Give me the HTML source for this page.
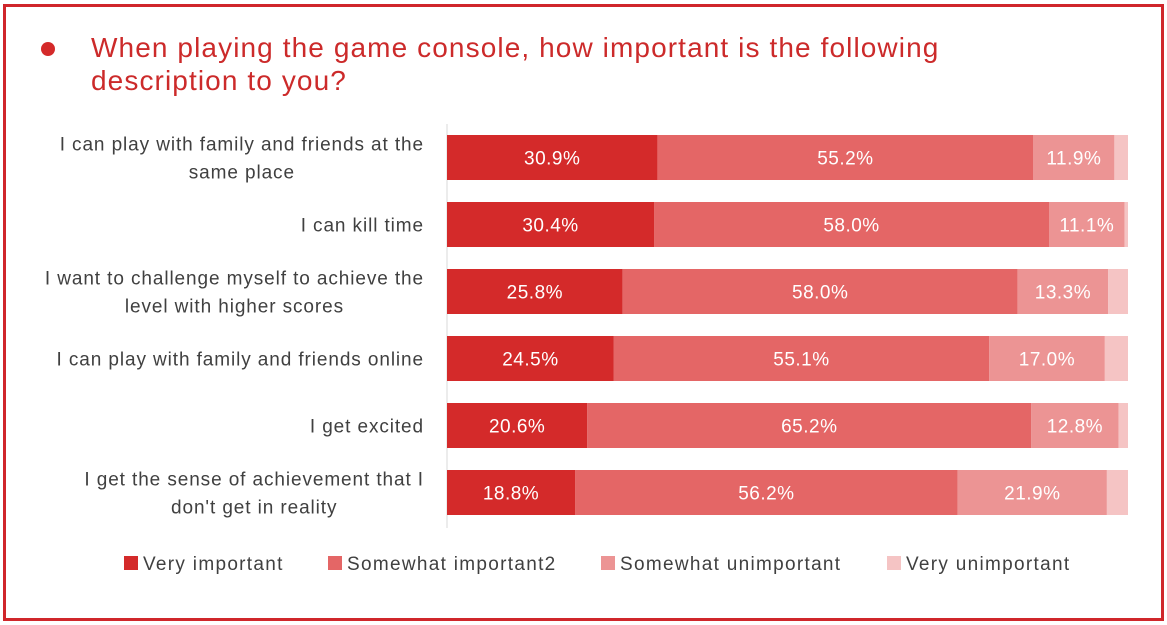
<!DOCTYPE html>
<html><head><meta charset="utf-8"><style>
body{margin:0;width:1167px;height:625px;background:#fff;font-family:"Liberation Sans",sans-serif;overflow:hidden}
</style></head><body>
<svg width="1167" height="625" style="position:absolute;left:0;top:0">
<rect x="4.5" y="5.5" width="1158" height="614" fill="#fff" stroke="#d0262b" stroke-width="3"/>
<circle cx="48" cy="49" r="7" fill="#d42a2a"/>
<text x="91" y="57" font-size="28" letter-spacing="1.1" fill="#cc2a2a">When playing the game console, how important is the following</text>
<text x="91" y="90" font-size="28" letter-spacing="1.1" fill="#cc2a2a">description to you?</text>
<line x1="447" y1="124" x2="447" y2="528" stroke="#d9d9d9"/>
<g id="bars"></g>
<g id="legend"></g>
</svg>
<script>
const categories=[["I can play with family and friends at the","same place"],["I can kill time"],["I want to challenge myself to achieve the","level with higher scores"],["I can play with family and friends online"],["I get excited"],["I get the sense of achievement that I","don't get in reality"]];
const veryImportant=[30.9,30.4,25.8,24.5,20.6,18.8];
const somewhatImportant=[55.2,58.0,58.0,55.1,65.2,56.2];
const somewhatUnimportant=[11.9,11.1,13.3,17.0,12.8,21.9];
const veryUnimportant=[2.0,0.5,2.9,3.4,1.4,3.1];
const seriesNames=["Very important","Somewhat important2","Somewhat unimportant","Very unimportant"];
const colors=["#d42a2a","#e46666","#ec9494","#f5c4c4"];
const NS="http://www.w3.org/2000/svg";
const x0=447,pw=681,y0=135,step=67,bh=45;
const xs=v=>v/100*pw;
const g=document.getElementById('bars');
function mk(t,a){const e=document.createElementNS(NS,t);for(const k in a)e.setAttribute(k,a[k]);return e;}
const series=[veryImportant,somewhatImportant,somewhatUnimportant,veryUnimportant];
categories.forEach((c,i)=>{
  const y=y0+i*step;
  const lines=c.length;
  const els=[];
  c.forEach((l,j)=>{
    const t=mk('text',{x:424,y:y+bh/2+7+(j-(lines-1)/2)*28,'text-anchor':'middle','font-size':19,'letter-spacing':'0.9',fill:'#404040'});
    
    
    t.textContent=l;g.appendChild(t);els.push(t);
  });
  let mw=0;els.forEach(e=>{mw=Math.max(mw,e.getComputedTextLength());});
  els.forEach(e=>e.setAttribute('x',424-mw/2));
  let acc=0;
  series.forEach((s,k)=>{
    const v=s[i];
    const r=mk('rect',{x:x0+xs(acc),y:y,width:xs(v),height:bh,fill:colors[k]});
    
    
    g.appendChild(r);
    if(k<3){
      const t=mk('text',{x:x0+xs(acc+v/2),y:y+bh/2+7,'text-anchor':'middle','font-size':19,'letter-spacing':'0.5',fill:'#fff'});
      
      
      t.textContent=v.toFixed(1)+'%';g.appendChild(t);
    }
    acc+=v;
  });
});
const lg=document.getElementById('legend');
const lx=[124,328,601,887];
seriesNames.forEach((n,k)=>{
  const r=mk('rect',{x:lx[k],y:556,width:14,height:14,fill:colors[k]});
  
  
  lg.appendChild(r);
  const t=mk('text',{x:lx[k]+19,y:570,'font-size':19,'letter-spacing':'1.3',fill:'#404040'});
  
  
  t.textContent=n;lg.appendChild(t);
});
</script>
</body></html>
